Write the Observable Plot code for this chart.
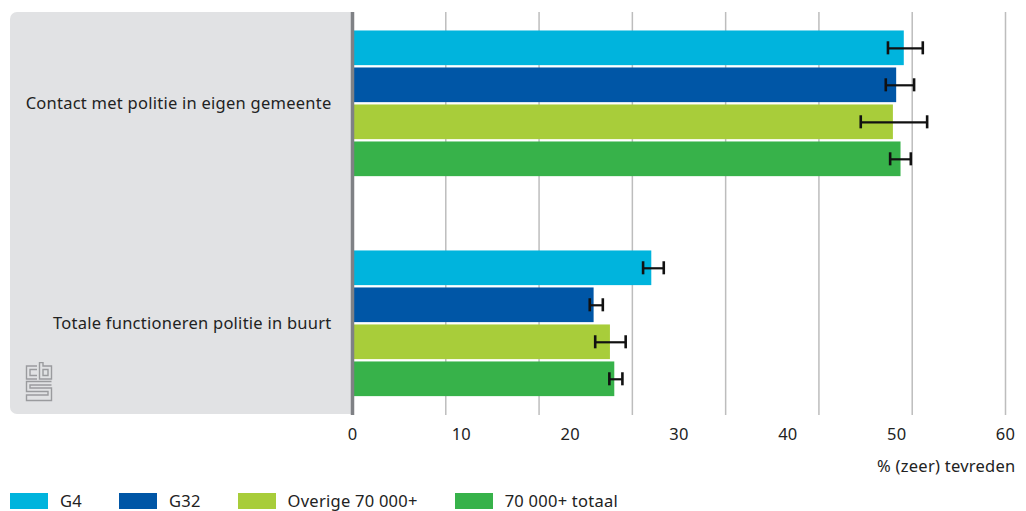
<!DOCTYPE html>
<html>
<head>
<meta charset="utf-8">
<script src="https://cdn.jsdelivr.net/npm/d3@7"></script>
<script src="https://cdn.jsdelivr.net/npm/@observablehq/plot@0.6"></script>
<style>
  html, body { margin: 0; padding: 0; background: #fff; }
  body { width: 1026px; height: 511px; overflow: hidden; font-family: "Noto Sans", sans-serif; color: #222; }
  #wrap { position: relative; width: 1026px; height: 485px; }
  #panel { position: absolute; left: 10px; top: 12px; width: 342px; height: 402px; background: #e1e2e4; border-radius: 7px 0 0 7px; }
  #panel svg.logo { position: absolute; left: 15px; top: 350px; }
  #chart { position: absolute; left: 0; top: 0; }
  #chart svg { background: transparent !important; letter-spacing: 0.25px; }
  #legend { display: flex; align-items: center; margin-top: 7px; padding-left: 10px; font-size: 16.5px; letter-spacing: 0.25px; color: #222; height: 17px; }
  .item { display: flex; align-items: center; margin-right: 37px; }
  .sw { width: 38px; height: 16px; margin-right: 12px; }
</style>
</head>
<body>
<div id="wrap">
  <div id="panel">
    <svg class="logo" width="28" height="40" viewBox="0 0 28 40" fill="none" stroke="#9a9b9e" stroke-width="1.4">
      <path d="M12 4 H1.5 V17 H12"/>
      <path d="M12 7.5 H5 V13.5 H12"/>
      <path d="M14.5 0.5 V17 H26.5 V4 H18 V0.5 Z"/>
      <path d="M18 7.5 H23 V13.5 H18 Z"/>
      <path d="M26.5 19.5 H1.5 V29.5 H23 V33 H1.5 V38.5 H26.5 V26 H5 V23 H26.5"/>
    </svg>
  </div>
  <div id="chart"></div>
</div>
<div id="legend"></div>
<script>
const categories = ["Contact met politie in eigen gemeente", "Totale functioneren politie in buurt"];
const series = ["G4", "G32", "Overige 70 000+", "70 000+ totaal"];
const colors = ["#00b4dd", "#0056a6", "#a8cd3a", "#37b24a"];

const contactValues = [50.7, 50.0, 49.7, 50.4];
const contactLow    = [49.2, 49.0, 46.7, 49.4];
const contactHigh   = [52.4, 51.6, 52.8, 51.3];

const buurtValues = [27.5, 22.2, 23.7, 24.1];
const buurtLow    = [26.7, 21.8, 22.3, 23.6];
const buurtHigh   = [28.6, 23.0, 25.1, 24.8];

const xTicks = [0, 10, 20, 30, 40, 50, 60];
const gridCount = 7;
const axisLabel = "% (zeer) tevreden";

const valuesByCat = [contactValues, buurtValues];
const lowByCat = [contactLow, buurtLow];
const highByCat = [contactHigh, buurtHigh];

const data = categories.flatMap((c, ci) => series.map((s, si) => ({
  category: c, series: s, si,
  value: valuesByCat[ci][si], lo: lowByCat[ci][si], hi: highByCat[ci][si]
})));

const gridValues = d3.range(1, gridCount + 1).map(k => k * 60 / gridCount);

const band = 146, step = 37, barH = 34.6, cap = 6.5;

const marks = [
  Plot.ruleX(gridValues, {stroke: "#bdbdbd", strokeWidth: 1.5})
];
series.forEach((s, si) => {
  const sub = data.filter(d => d.si === si);
  const top = step * si;
  marks.push(Plot.barX(sub, {x: "value", y: "category", fill: colors[si],
    insetTop: top, insetBottom: band - top - barH}));
});
marks.push(Plot.ruleX([0], {stroke: "#7f8185", strokeWidth: 3.5}));
series.forEach((s, si) => {
  const sub = data.filter(d => d.si === si);
  const center = step * si + barH / 2;
  marks.push(Plot.ruleY(sub, {x1: "lo", x2: "hi", y: "category", dy: center - band / 2, stroke: "#111", strokeWidth: 2.2}));
  for (const k of ["lo", "hi"]) {
    marks.push(Plot.tickX(sub, {x: k, y: "category", stroke: "#111", strokeWidth: 2.6,
      insetTop: center - cap, insetBottom: band - center - cap}));
  }
});
marks.push(Plot.text([axisLabel], {frameAnchor: "bottom-right", dx: 10, dy: 51, textAnchor: "end", lineAnchor: "middle", fontSize: 16.5, fill: "#222"}));

const chart = Plot.plot({
  width: 1026,
  height: 485,
  marginLeft: 352,
  marginRight: 21,
  marginTop: 12,
  marginBottom: 70,
  style: {fontFamily: "Noto Sans, sans-serif", fontSize: "16.5px", color: "#222", background: "transparent"},
  x: {domain: [0, 60], ticks: xTicks, tickSize: 0, tickPadding: 13, label: null},
  y: {domain: categories, paddingInner: 0.336, paddingOuter: 0.084, tickSize: 0, tickPadding: 21, label: null, round: false},
  marks
});
document.getElementById("chart").appendChild(chart);

const legend = document.getElementById("legend");
series.forEach((s, si) => {
  const it = document.createElement("div");
  it.className = "item";
  const sw = document.createElement("div");
  sw.className = "sw";
  sw.style.background = colors[si];
  const lb = document.createElement("span");
  lb.textContent = s;
  it.appendChild(sw); it.appendChild(lb);
  legend.appendChild(it);
});
</script>
</body>
</html>
